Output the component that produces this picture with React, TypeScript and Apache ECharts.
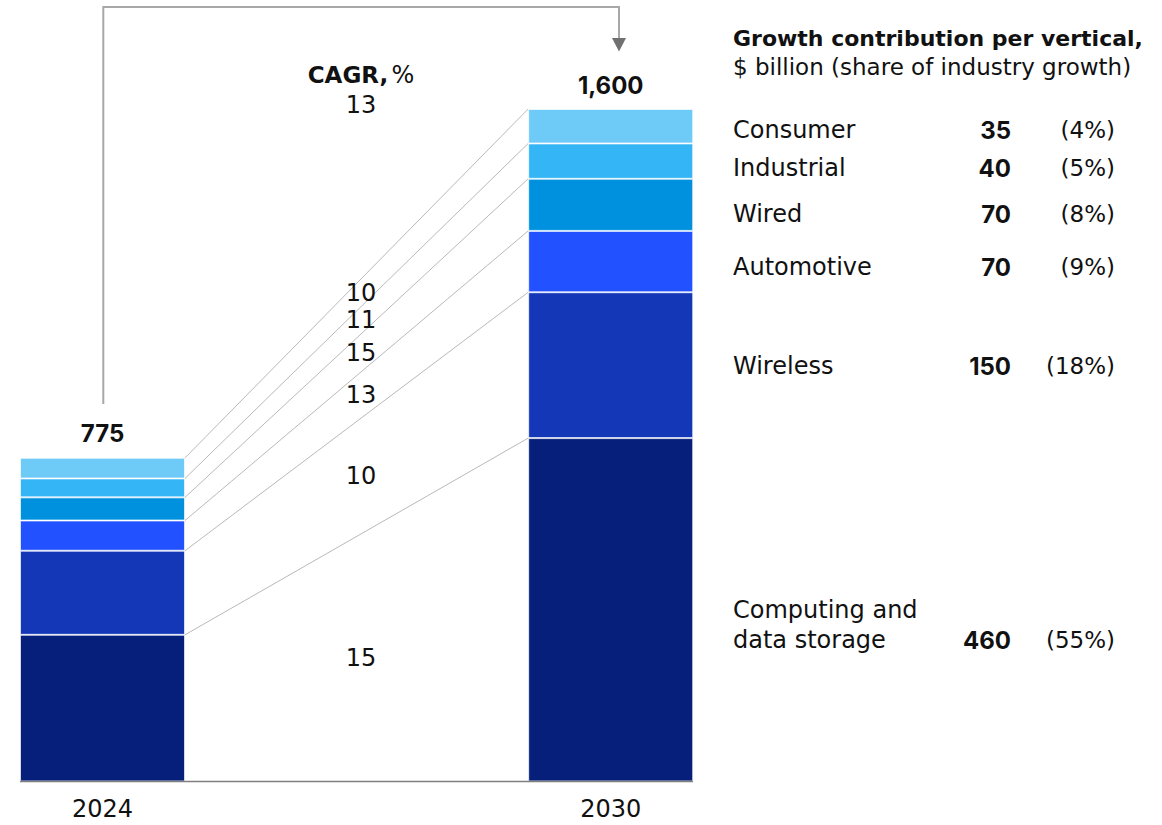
import React, { useEffect, useRef } from "react";
import * as echarts from "echarts";

// ---------- data ----------
const years = ["2024", "2030"];
const verticals = ["Computing and data storage", "Wireless", "Automotive", "Wired", "Industrial", "Consumer"];
const computing = [349, 817];
const wireless = [200, 347];
const automotive = [72, 146];
const wired = [55, 124];
const industrial = [45, 84];
const consumer = [49, 82];
const totals = [775, 1600];
const cagr = [15, 10, 13, 15, 11, 10]; // bottom to top
const totalCagr = 13;
const growth = [460, 150, 70, 70, 40, 35];
const growthShare = ["55%", "18%", "9%", "8%", "5%", "4%"];
const legendNames = ["Computing and\ndata storage", "Wireless", "Automotive", "Wired", "Industrial", "Consumer"];

// ---------- styles / layout ----------
const seriesValues = [computing, wireless, automotive, wired, industrial, consumer];
const colors = ["#061f7b", "#1437b8", "#2251ff", "#0091de", "#34b5f6", "#6ecaf7"];
const legendY = [640, 366, 267, 214, 168, 130];
const REG = "'DejaVu Sans', 'Liberation Sans', sans-serif";
const NUMB = "Inter, 'Liberation Sans', Arial, sans-serif";
const BAR_W = 165;
const LABEL_X = 361;
const TEXT = "#111111";

export default function App() {
  const ref = useRef<HTMLDivElement>(null);
  useEffect(() => {
    if (!ref.current) return;
    const chart = echarts.init(ref.current, null, { renderer: "svg" });

    const cum = (yi: number) => {
      let s = 0;
      return seriesValues.map((v) => (s += v[yi]));
    };
    const top24 = cum(0);
    const top30 = cum(1);
    const connectorData = verticals.map((_, i) => [
      0,
      top24[i],
      top30[i],
      i === 0 ? 0 : top24[i - 1],
      i === 0 ? 0 : top30[i - 1],
      cagr[i],
    ]);

    const barSeries = verticals.map((name, i) => ({
      name,
      type: "bar",
      stack: "total",
      barWidth: BAR_W,
      clip: false,
      silent: true,
      data: seriesValues[i],
      itemStyle: { color: colors[i], borderColor: "rgba(255,255,255,0.65)", borderWidth: 1 },
      label:
        i === verticals.length - 1
          ? {
              show: true,
              position: "top",
              distance: 12,
              formatter: (p: any) => totals[p.dataIndex].toLocaleString("en-US"),
              fontFamily: NUMB,
              fontSize: 24,
              fontWeight: "bold",
              color: TEXT,
            }
          : { show: false },
    }));

    const connectorSeries = {
      type: "custom",
      silent: true,
      encode: { x: 0, y: [1, 2] },
      data: connectorData,
      z: 1,
      renderItem: (params: any, api: any) => {
        const a = api.coord([0, api.value(1)]);
        const b = api.coord([1, api.value(2)]);
        const a0 = api.coord([0, api.value(3)]);
        const b0 = api.coord([1, api.value(4)]);
        const x1 = a[0] + BAR_W / 2;
        const x2 = b[0] - BAR_W / 2;
        const t = (LABEL_X - x1) / (x2 - x1);
        const yTop = a[1] + t * (b[1] - a[1]);
        const yBot = a0[1] + t * (b0[1] - a0[1]);
        return {
          type: "group",
          children: [
            {
              type: "line",
              shape: { x1, y1: a[1], x2, y2: b[1] },
              style: { stroke: "#b9b9b9", lineWidth: 1 },
            },
            {
              type: "text",
              style: {
                text: String(api.value(5)),
                x: LABEL_X,
                y: (yTop + yBot) / 2,
                align: "center",
                verticalAlign: "middle",
                fontFamily: REG,
                fontSize: 24,
                fill: TEXT,
              },
            },
          ],
        };
      },
    };

    const legendGraphics: any[] = [];
    legendNames.forEach((name, i) => {
      const lines = name.split("\n").length;
      legendGraphics.push({
        type: "text",
        x: 733,
        y: legendY[i] - (lines - 1) * 15,
        style: {
          text: name,
          align: "left",
          verticalAlign: "middle",
          fontFamily: REG,
          fontSize: 24,
          lineHeight: 30,
          fill: TEXT,
        },
      });
      legendGraphics.push({
        type: "text",
        x: 1011,
        y: legendY[i],
        style: {
          text: String(growth[i]),
          align: "right",
          verticalAlign: "middle",
          fontFamily: NUMB,
          fontSize: 24,
          fontWeight: "bold",
          fill: TEXT,
        },
      });
      legendGraphics.push({
        type: "text",
        x: 1115,
        y: legendY[i],
        style: {
          text: `(${growthShare[i]})`,
          align: "right",
          verticalAlign: "middle",
          fontFamily: REG,
          fontSize: 23,
          fill: TEXT,
        },
      });
    });

    const option: any = {
      animation: false,
      grid: { left: 102.5, top: 109, width: 508.2, height: 672.5, containLabel: false },
      xAxis: {
        type: "category",
        data: years,
        boundaryGap: false,
        axisLine: { show: false },
        axisTick: { show: false },
        axisLabel: { fontFamily: REG, fontSize: 24, color: TEXT, margin: 15 },
      },
      yAxis: { type: "value", min: 0, max: 1600, show: false, splitLine: { show: false } },
      series: [...barSeries, connectorSeries],
      graphic: [
        {
          type: "line",
          silent: true,
          z: 10,
          shape: { x1: 20, y1: 781.5, x2: 693, y2: 781.5 },
          style: { stroke: "#808080", lineWidth: 1.5 },
        },
        {
          type: "polyline",
          silent: true,
          shape: { points: [[103.3, 404], [103.3, 7], [619, 7], [619, 40]] },
          style: { stroke: "#a8a8a8", lineWidth: 2, fill: null },
        },
        {
          type: "polygon",
          silent: true,
          shape: { points: [[612, 38], [626, 38], [619, 51.5]] },
          style: { fill: "#707070" },
        },
        {
          type: "text",
          x: LABEL_X,
          y: 75,
          style: {
            text: "{b|CAGR,} {r|%}",
            align: "center",
            verticalAlign: "middle",
            fill: TEXT,
            rich: {
              b: { fontFamily: REG, fontSize: 23, fontWeight: "bold", fill: TEXT },
              r: { fontFamily: REG, fontSize: 24, fill: TEXT },
            },
          },
        },
        {
          type: "text",
          x: LABEL_X,
          y: 105,
          style: {
            text: String(totalCagr),
            align: "center",
            verticalAlign: "middle",
            fontFamily: REG,
            fontSize: 24,
            fill: TEXT,
          },
        },
        {
          type: "text",
          x: 733,
          y: 38,
          style: {
            text: "Growth contribution per vertical,",
            align: "left",
            verticalAlign: "middle",
            fontFamily: REG,
            fontSize: 22,
            fontWeight: "bold",
            fill: TEXT,
          },
        },
        {
          type: "text",
          x: 733,
          y: 67,
          style: {
            text: "$ billion (share of industry growth)",
            align: "left",
            verticalAlign: "middle",
            fontFamily: REG,
            fontSize: 23,
            fill: TEXT,
          },
        },
        ...legendGraphics,
      ],
    };

    chart.setOption(option);
    return () => chart.dispose();
  }, []);

  return (
    <div
      ref={ref}
      style={{ position: "absolute", left: 0, top: 0, width: 1162, height: 825, background: "#ffffff" }}
    />
  );
}
